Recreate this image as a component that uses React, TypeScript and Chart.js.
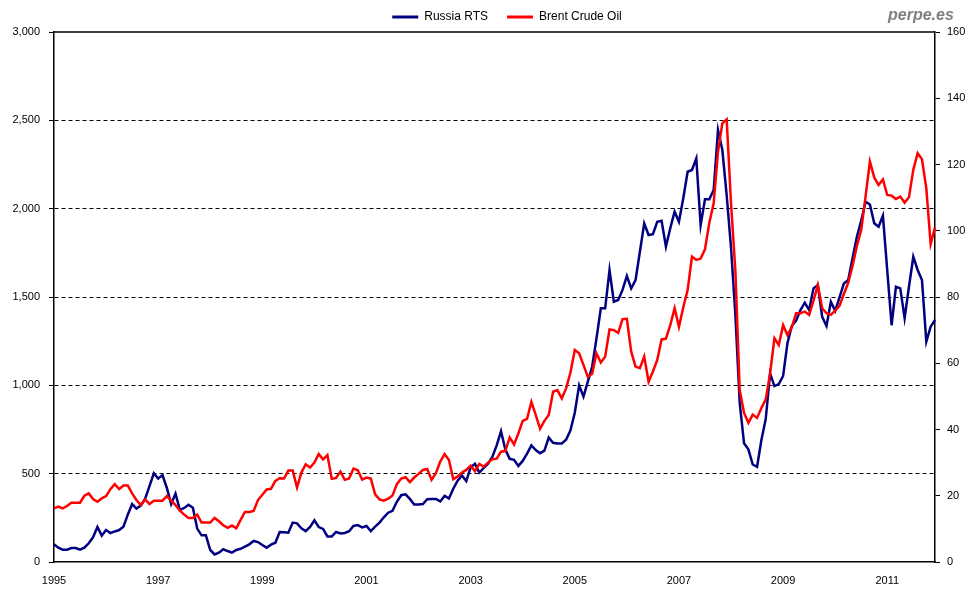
import React, { useEffect, useRef } from "react";
import { Chart, registerables } from "chart.js";

Chart.register(...registerables);

const years = [1995, 1996, 1997, 1998, 1999, 2000, 2001, 2002, 2003, 2004, 2005, 2006, 2007, 2008, 2009, 2010, 2011];
const monthCodes = ["01", "02", "03", "04", "05", "06", "07", "08", "09", "10", "11", "12"];
const categories = years.flatMap((y) => monthCodes.map((m) => `${y}-${m}`));
const xTickLabels = ["1995", "1997", "1999", "2001", "2003", "2005", "2007", "2009", "2011"];

const rtsLabel = "Russia RTS";
const brentLabel = "Brent Crude Oil";

const rtsValues = [
  100, 81, 70, 70, 79, 79, 70, 81, 106, 140,
  198, 149, 181, 164, 173, 181, 200, 268, 328, 302,
  319, 358, 430, 502, 472, 492, 419, 328, 387, 294,
  306, 324, 307, 189, 151, 151, 68, 43, 53, 72,
  62, 53, 68, 75, 87, 100, 119, 113, 96, 81,
  98, 109, 170, 168, 166, 223, 219, 191, 175, 198,
  236, 198, 187, 145, 145, 170, 162, 164, 174, 204,
  209, 196, 204, 175, 200, 223, 253, 279, 290, 341,
  378, 383, 357, 326, 326, 328, 355, 357, 357, 343,
  374, 360, 415, 460, 490, 458, 535, 556, 506, 532,
  556, 595, 660, 740, 636, 584, 578, 544, 572, 614,
  660, 634, 616, 630, 704, 675, 671, 671, 692, 745,
  845, 1000, 936, 1021, 1105, 1266, 1436, 1436, 1653, 1473,
  1483, 1540, 1619, 1549, 1596, 1756, 1917, 1851, 1856, 1926,
  1932, 1785, 1889, 1983, 1926, 2059, 2209, 2219, 2285, 1907,
  2053, 2053, 2106, 2445, 2332, 2075, 1780, 1400, 900, 672,
  638, 552, 539, 690, 810, 1068, 996, 1007, 1053, 1238,
  1336, 1366, 1426, 1468, 1426, 1549, 1568, 1388, 1336, 1473,
  1422, 1498, 1577, 1596, 1719, 1841, 1932, 2039, 2024, 1917,
  1898, 1960, 1650, 1340, 1558, 1549, 1380, 1558, 1728, 1653,
  1596, 1247, 1332, 1370,
];

const brentValues = [
  16.2, 16.7, 16.2, 16.9, 17.9, 17.9, 17.9, 20.0, 20.7, 19.0,
  18.2, 19.2, 19.9, 22.0, 23.5, 22.0, 23.1, 23.1, 20.7, 18.7,
  17.2, 18.9, 17.5, 18.5, 18.5, 18.5, 19.9, 18.5, 17.2, 15.5,
  14.3, 13.3, 13.3, 14.3, 11.9, 11.9, 11.9, 13.3, 12.3, 11.1,
  10.3, 11.0, 10.2, 12.7, 15.1, 15.1, 15.4, 18.7, 20.3, 21.9,
  22.1, 24.5, 25.3, 25.2, 27.6, 27.6, 22.5, 27.0, 29.5, 28.5,
  30.0, 32.6, 31.0, 32.3, 25.1, 25.4, 27.3, 24.8, 25.2, 28.2,
  27.7, 24.9, 25.5, 25.2, 20.4, 18.9, 18.5, 19.1, 20.1, 23.5,
  25.2, 25.6, 24.1, 25.5, 26.6, 27.8, 28.1, 24.8, 26.8, 30.3,
  32.6, 30.8, 25.0, 25.8, 27.0, 27.8, 29.1, 27.4, 29.6, 28.8,
  30.0, 31.0, 31.2, 33.3, 33.5, 37.6, 35.5, 38.8, 42.6, 43.2,
  48.3, 44.4, 40.2, 42.6, 44.4, 51.4, 51.9, 49.4, 52.4, 57.2,
  64.0, 63.0, 59.5, 55.9, 56.8, 63.0, 60.2, 62.0, 70.2, 70.0,
  69.2, 73.3, 73.4, 63.5, 59.0, 58.5, 62.0, 54.4, 57.5, 61.0,
  67.2, 67.4, 71.5, 76.6, 71.0, 76.9, 82.1, 92.2, 91.2, 91.6,
  94.4, 102.4, 108.3, 123.9, 132.4, 133.6, 108.3, 88.0, 52.0, 45.0,
  42.0, 44.5, 43.5, 46.5, 49.1, 56.9, 67.5, 65.5, 71.5, 68.5,
  70.9, 75.1, 75.1, 75.6, 74.6, 78.9, 83.6, 76.6, 75.1, 74.6,
  75.9, 77.3, 80.9, 84.3, 89.4, 95.4, 100.2, 110.3, 120.9, 116.1,
  113.8, 115.5, 110.8, 110.6, 109.6, 110.3, 108.5, 110.1, 118.4, 123.4,
  121.6, 112.8, 96.0, 101.0,
];

const FONT = '"Liberation Sans", Arial, sans-serif';

const framePlugin = {
  id: "frame",
  beforeDatasetsDraw(chart: any) {
    const { ctx, chartArea } = chart;
    ctx.save();
    ctx.strokeStyle = "#000";
    ctx.lineWidth = 1.5;
    ctx.beginPath();
    ctx.moveTo(chartArea.left, chartArea.top);
    ctx.lineTo(chartArea.right, chartArea.top);
    ctx.stroke();
    ctx.restore();
  },
};

export default function App() {
  const canvasRef = useRef<HTMLCanvasElement | null>(null);

  useEffect(() => {
    if (!canvasRef.current) return;
    const chart = new Chart(canvasRef.current, {
      type: "line",
      data: {
        labels: categories,
        datasets: [
          {
            label: rtsLabel,
            data: rtsValues,
            borderColor: "#000080",
            backgroundColor: "#000080",
            borderWidth: 2.5,
            pointRadius: 0,
            tension: 0,
            yAxisID: "y",
            order: 2,
          },
          {
            label: brentLabel,
            data: brentValues,
            borderColor: "#ff0000",
            backgroundColor: "#ff0000",
            borderWidth: 2.5,
            pointRadius: 0,
            tension: 0,
            yAxisID: "y1",
            order: 1,
          },
        ],
      },
      options: {
        animation: false,
        responsive: false,
        devicePixelRatio: 1,
        layout: { padding: { left: 0, right: -34, top: -8, bottom: 0 } },
        plugins: {
          legend: {
            display: true,
            position: "top",
            align: "center",
            maxHeight: 40,
            labels: {
              boxWidth: 26,
              boxHeight: 3,
              padding: 19,
              color: "#000",
              font: { family: FONT, size: 12 },
              generateLabels: (c: any) =>
                c.data.datasets.map((ds: any, i: number) => ({
                  text: ds.label,
                  fillStyle: ds.borderColor,
                  strokeStyle: ds.borderColor,
                  lineWidth: 0,
                  hidden: false,
                  datasetIndex: i,
                  fontColor: "#000",
                })),
            },
          },
          tooltip: { enabled: false },
        },
        scales: {
          x: {
            type: "category",
            grid: { display: false, drawTicks: false },
            border: { display: true, color: "#000", width: 1.5 },
            ticks: {
              autoSkip: false,
              maxRotation: 0,
              minRotation: 0,
              padding: 12,
              color: "#000",
              font: { family: FONT, size: 11 },
              callback: (_v: any, i: number) => {
                const cat = categories[i];
                const [yr, mo] = cat.split("-");
                return mo === "01" && xTickLabels.includes(yr) ? yr : "";
              },
            },
            afterFit: (s: any) => {
              s.height = 38;
            },
          },
          y: {
            position: "left",
            min: 0,
            max: 3000,
            ticks: {
              stepSize: 500,
              padding: 9,
              color: "#000",
              font: { family: FONT, size: 11 },
              callback: (v: any) => Number(v).toLocaleString("en-US"),
            },
            grid: {
              color: (ctx: any) =>
                ctx.tick && (ctx.tick.value === 0 || ctx.tick.value === 3000) ? "rgba(0,0,0,0)" : "#000",
              lineWidth: 1,
              drawTicks: true,
              tickLength: 5,
              tickColor: "#000",
              tickWidth: 1,
              tickBorderDash: [],
            },
            border: { display: true, color: "#000", width: 1.5, dash: [4, 3] },
            afterFit: (s: any) => {
              s.width = 54;
            },
          },
          y1: {
            position: "right",
            min: 0,
            max: 160,
            ticks: {
              stepSize: 20,
              padding: 7,
              color: "#000",
              font: { family: FONT, size: 11 },
            },
            grid: {
              drawOnChartArea: false,
              drawTicks: true,
              tickLength: 5,
              tickColor: "#000",
              tickWidth: 1,
            },
            border: { display: true, color: "#000", width: 1.5 },
            afterFit: (s: any) => {
              s.width = 79;
            },
          },
        },
      },
      plugins: [framePlugin],
    } as any);
    return () => chart.destroy();
  }, []);

  return (
    <div style={{ position: "fixed", left: 0, top: 0, width: 980, height: 600, background: "#fff" }}>
      <canvas ref={canvasRef} width={980} height={600} style={{ width: 980, height: 600, display: "block" }} />
      <div
        style={{
          position: "absolute",
          left: 888,
          top: 6,
          fontFamily: FONT,
          fontWeight: "bold",
          fontStyle: "italic",
          fontSize: 16,
          color: "#808080",
          whiteSpace: "nowrap",
        }}
      >
        perpe.es
      </div>
    </div>
  );
}
